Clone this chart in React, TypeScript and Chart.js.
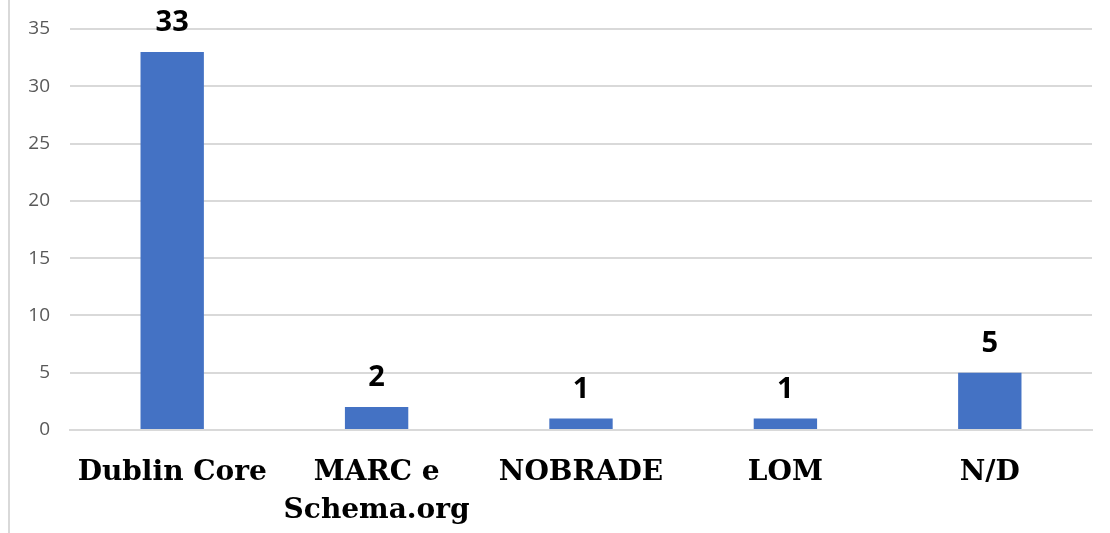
import React, { useEffect, useRef } from "react";
import { Chart, registerables } from "chart.js";

Chart.register(...registerables);

const categories: (string | string[])[] = ["Dublin Core", ["MARC e", "Schema.org"], "NOBRADE", "LOM", "N/D"];
const values: number[] = [33, 2, 1, 1, 5];
const yTicks: number[] = [0, 5, 10, 15, 20, 25, 30, 35];

const valueLabels = {
  id: "valueLabels",
  afterDatasetsDraw(chart: any) {
    const ctx = chart.ctx;
    const meta = chart.getDatasetMeta(0);
    ctx.save();
    ctx.font = "bold 29px 'Open Sans', sans-serif";
    ctx.fillStyle = "#000000";
    ctx.textAlign = "center";
    ctx.textBaseline = "alphabetic";
    meta.data.forEach((bar: any, i: number) => {
      ctx.fillText(String(values[i]), bar.x, bar.y - 21);
    });
    ctx.restore();
  },
};

export default function App() {
  const ref = useRef<HTMLCanvasElement | null>(null);
  useEffect(() => {
    if (!ref.current) return;
    const chart = new Chart(ref.current, {
      type: "bar",
      data: {
        labels: categories,
        datasets: [
          {
            data: values,
            backgroundColor: "#4472C4",
            barPercentage: 0.62,
            categoryPercentage: 0.5,
          },
        ],
      },
      options: {
        responsive: false,
        animation: false,
        layout: { padding: { top: 29, right: 18, left: 0, bottom: 0 } },
        plugins: { legend: { display: false }, tooltip: { enabled: false } },
        scales: {
          x: {
            grid: { display: false },
            border: { color: "#d9d9d9", width: 2 },
            ticks: {
              color: "#000000",
              font: { family: "'DejaVu Serif', serif", weight: "bold", size: 28, lineHeight: 1.36 },
              padding: 16,
              maxRotation: 0,
              autoSkip: false,
            },
            afterFit(scale: any) {
              scale.height = 103;
              scale.paddingLeft = 0;
              scale.paddingRight = 0;
            },
          },
          y: {
            min: 0,
            max: 35,
            afterBuildTicks(scale: any) {
              scale.ticks = yTicks.map((v) => ({ value: v }));
            },
            grid: { color: "#d9d9d9", lineWidth: 2, drawTicks: false },
            border: { display: false },
            ticks: {
              color: "#595959",
              font: { family: "'Open Sans', sans-serif", size: 19 },
              padding: 20,
            },
            afterFit(scale: any) {
              scale.width = 70;
              scale.paddingTop = 0;
              scale.paddingBottom = 0;
            },
          },
        },
      },
      plugins: [valueLabels],
    });
    return () => chart.destroy();
  }, []);
  return (
    <div style={{ position: "fixed", left: 0, top: 0, width: 1110, height: 533, background: "#fff" }}>
      <div style={{ position: "absolute", left: 8, top: 0, width: 2, height: 533, background: "#d9d9d9" }} />
      <canvas ref={ref} width={1110} height={533} style={{ position: "absolute", left: 0, top: 0 }} />
    </div>
  );
}
